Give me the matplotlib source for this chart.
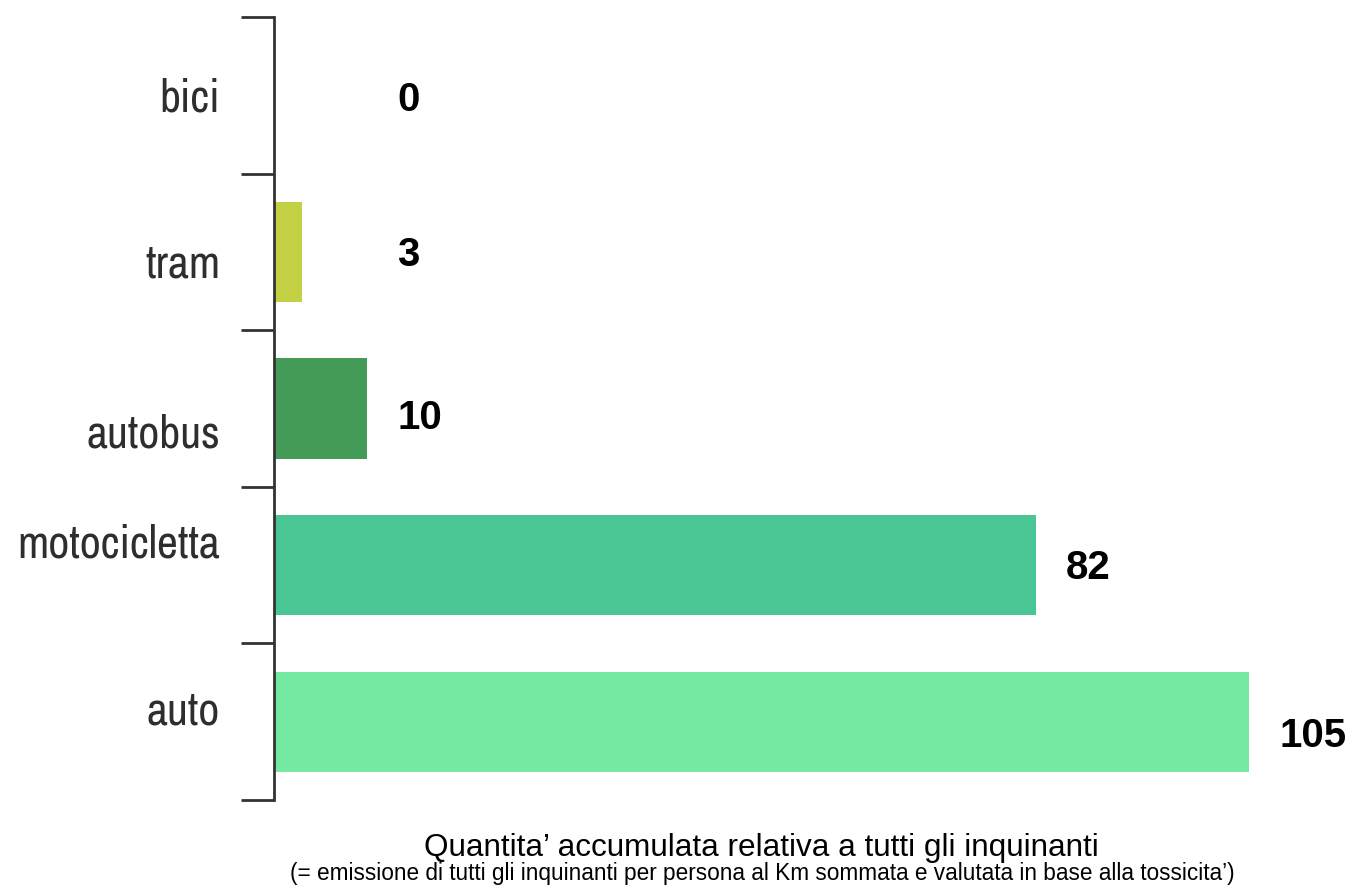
import matplotlib.pyplot as plt
import matplotlib.transforms as mtransforms

modes = ['bici', 'tram', 'autobus', 'motocicletta', 'auto']
values = [0, 3, 10, 82, 105]
colors = ['#ffffff', '#c3d043', '#439b57', '#4ac594', '#75e8a1']

title = 'Quantita\u2019 accumulata relativa a tutti gli inquinanti'
subtitle = '(= emissione di tutti gli inquinanti per persona al Km sommata e valutata in base alla tossicita\u2019)'

fig = plt.figure(figsize=(13.57, 8.89), dpi=100)
ax = fig.add_axes([274 / 1357, 1 - 800 / 889, (1342 - 274) / 1357, 783 / 889])

pos = list(range(len(modes)))
ax.barh(pos, values, height=0.64, color=colors)
ax.set_ylim(len(modes) - 0.5, -0.5)
ax.set_xlim(0, 115)

# the category names are not quite centred in their bands
name_shift = [0.105, 0.166, 0.246, -0.051, 0.019]
value_shift = [0.10, 0.09, 0.13, 0.09, 0.16]

trans = mtransforms.blended_transform_factory(ax.transAxes, ax.transData)
for y, name, dy in zip(pos, modes, name_shift):
    ax.text(-54 / 1068, y + dy, name, transform=trans, ha='right', va='baseline',
            fontsize=33, family='Archivo Narrow', color='#2e2e2e')

for y, v, dy in zip(pos, values, value_shift):
    ax.text(max(v, 10) + 3.3, y + dy, str(v), ha='left', va='baseline',
            fontsize=29, fontweight='bold', family='Liberation Sans', color='black')

# ticks mark the boundaries between categories
ax.set_yticks([p - 0.5 for p in pos] + [len(modes) - 0.5])
ax.set_yticklabels([])
ax.tick_params(axis='y', which='major', length=24, width=2, color='#333333')
ax.set_xticks([])

for side in ['top', 'right', 'bottom']:
    ax.spines[side].set_visible(False)
ax.spines['left'].set_linewidth(2)
ax.spines['left'].set_color('#333333')

fig.text(761 / 1357, 1 - 856 / 889, title, ha='center', va='baseline',
         fontsize=22.7, family='Liberation Sans', color='black')
fig.text(762 / 1357, 1 - 880 / 889, subtitle, ha='center', va='baseline',
         fontsize=16.3, family='Liberation Sans', color='black')

fig.savefig('out.png', dpi=100)
